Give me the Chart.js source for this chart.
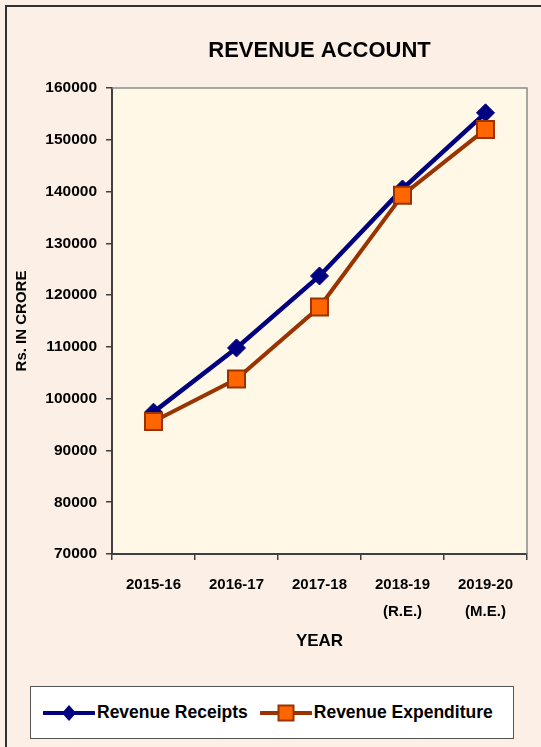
<!DOCTYPE html>
<html>
<head>
<meta charset="utf-8">
<script src="https://cdn.jsdelivr.net/npm/chart.js@4/dist/chart.umd.min.js"></script>
<style>
    html, body { margin: 0; padding: 0; }
    body { width: 541px; height: 747px; overflow: hidden; background: #fcefe6; position: relative; font-family: "Liberation Sans", Arial, sans-serif; }
    .frame { position: absolute; left: 5px; top: 5px; width: 560px; height: 760px; border: 2px solid #333; box-sizing: border-box; }
    #wrap { position: absolute; left: 0; top: 0; width: 541px; height: 747px; }
    .legend { position: absolute; left: 30px; top: 686px; width: 484px; height: 53px; box-sizing: border-box;
              background: #fff; border: 1.5px solid #555; display: flex; align-items: center; padding-left: 12px; }
    .legend-item { display: flex; align-items: center; font-weight: bold; font-size: 17.5px; color: #000; margin-right: 12px; }
    .legend-item svg { margin-right: 2px; }
</style>
</head>
<body>
<div class="frame"></div>
<div id="wrap"><canvas id="chart" width="541" height="747"></canvas></div>
<div class="legend" id="legend"></div>

<script>
// ---- data ----
const years = [["2015-16"], ["2016-17"], ["2017-18"], ["2018-19", "(R.E.)"], ["2019-20", "(M.E.)"]];
const receipts = [97400, 109800, 123700, 140500, 155200];
const expenditure = [95600, 103800, 117700, 139300, 152000];
const seriesNames = ["Revenue Receipts", "Revenue Expenditure"];
const yTicks = [70000, 80000, 90000, 100000, 110000, 120000, 130000, 140000, 150000, 160000];

const FONT = "'Liberation Sans', Arial, sans-serif";

// pale plot background + grey frame on top/right
const plotFrame = {
    id: "plotFrame",
    beforeDraw(chart){
        const { ctx, chartArea: a } = chart;
        ctx.save();
        ctx.fillStyle = "#fff8e7";
        ctx.fillRect(a.left, a.top, a.right - a.left, a.bottom - a.top);
        ctx.restore();
    },
    beforeDatasetsDraw(chart){
        const { ctx, chartArea: a } = chart;
        ctx.save();
        ctx.strokeStyle = "#8a8a8a";
        ctx.lineWidth = 1.5;
        ctx.beginPath();
        ctx.moveTo(a.left, a.top);
        ctx.lineTo(a.right, a.top);
        ctx.lineTo(a.right, a.bottom);
        ctx.stroke();
        ctx.restore();
    }
};

const chart = new Chart(document.getElementById("chart"), {
    type: "line",
    data: {
        labels: years,
        datasets: [
            {
                label: seriesNames[0],
                data: receipts,
                borderColor: "#000080",
                backgroundColor: "#000080",
                borderWidth: 4.5,
                pointStyle: "rectRot",
                pointRadius: 9,
                pointBorderWidth: 1,
                pointBorderColor: "#000080",
                pointBackgroundColor: "#000080",
                tension: 0,
                order: 1,
            },
            {
                label: seriesNames[1],
                data: expenditure,
                borderColor: "#993300",
                backgroundColor: "#ff6600",
                borderWidth: 4,
                pointStyle: "rect",
                pointRadius: 12,
                pointBorderWidth: 2,
                pointBorderColor: "#993300",
                pointBackgroundColor: "#ff6600",
                tension: 0,
                order: 0,
            },
        ],
    },
    options: {
        responsive: false,
        animation: false,
        devicePixelRatio: 1,
        layout: { padding: { left: 0, top: 0, right: 9, bottom: 93 } },
        plugins: {
            legend: { display: false },
            tooltip: { enabled: false },
            title: {
                display: true,
                text: "REVENUE ACCOUNT",
                fullSize: false,
                color: "#000",
                font: { family: FONT, size: 22, weight: "bold", lineHeight: 1.2 },
                padding: { top: 38, bottom: 23.6 },
            },
        },
        scales: {
            x: {
                offset: true,
                grid: { display: true, offset: true, drawOnChartArea: false, drawTicks: true, tickLength: 6, color: "#404040", lineWidth: 1.5 },
                border: { display: true, color: "#404040", width: 2 },
                ticks: { color: "#000", padding: 12, maxRotation: 0, autoSkip: false,
                         font: { family: FONT, size: 15, weight: "bold", lineHeight: 1.75 } },
                title: { display: true, text: "YEAR", color: "#000", padding: { top: 0, bottom: 2.8 },
                         font: { family: FONT, size: 17, weight: "bold", lineHeight: 1.2 } },
                afterFit(scale){ scale.height = 100; },
            },
            y: {
                min: 70000,
                max: 160000,
                afterBuildTicks(scale){ scale.ticks = yTicks.map((v) => ({ value: v })); },
                grid: { display: true, drawOnChartArea: false, drawTicks: true, tickLength: 6, color: "#404040", lineWidth: 1.5 },
                border: { display: true, color: "#404040", width: 2 },
                ticks: { color: "#000", padding: 9, callback: (v) => String(v),
                         font: { family: FONT, size: 15.5, weight: "bold" } },
                title: { display: true, text: "Rs. IN CRORE", color: "#000", padding: { top: 13, bottom: 0 },
                         font: { family: FONT, size: 15, weight: "bold", lineHeight: 1.2 } },
                afterFit(scale){ scale.width = 112; },
            },
        },
    },
    plugins: [plotFrame],
});

// ---- HTML legend built from the datasets ----
function legendIcon(ds){
    const w = 52, h = 22, cy = h / 2, cx = w / 2;
    let marker;
    if (ds.pointStyle === "rectRot") {
        marker = `<polygon points="${cx},${cy - 8} ${cx + 7},${cy} ${cx},${cy + 8} ${cx - 7},${cy}" fill="${ds.pointBackgroundColor}"/>`;
    } else {
        marker = `<rect x="${cx - 7.5}" y="${cy - 7.5}" width="15" height="15" fill="${ds.pointBackgroundColor}" stroke="${ds.pointBorderColor}" stroke-width="2"/>`;
    }
    return `<svg width="${w}" height="${h}"><line x1="1" y1="${cy}" x2="${w - 1}" y2="${cy}" stroke="${ds.borderColor}" stroke-width="4" stroke-linecap="round"/>${marker}</svg>`;
}

const legendEl = document.getElementById("legend");
chart.data.datasets.forEach((ds) => {
    const item = document.createElement("div");
    item.className = "legend-item";
    item.innerHTML = legendIcon(ds) + `<span>${ds.label}</span>`;
    legendEl.appendChild(item);
});
</script>
</body>
</html>
